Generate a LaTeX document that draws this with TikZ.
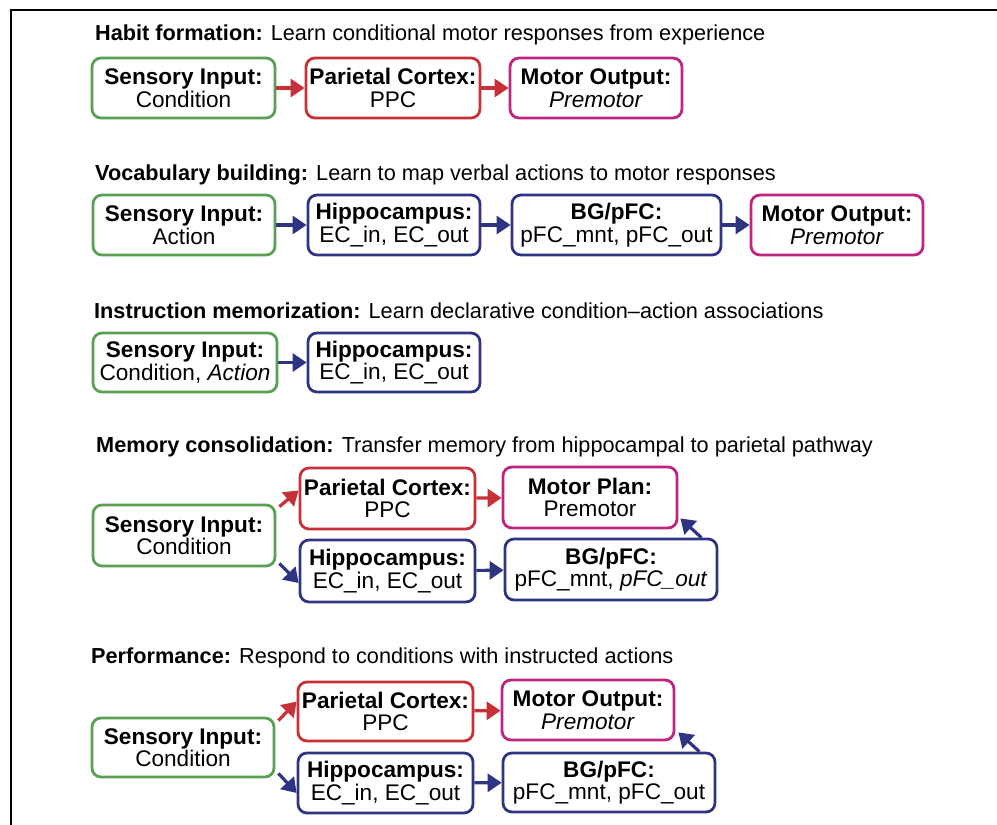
\documentclass[tikz,border=0pt]{standalone}
\usepackage{fontspec}
\setmainfont{Liberation Sans}
\usetikzlibrary{arrows.meta}

\definecolor{sensgreen}{RGB}{88,160,82}
\definecolor{parred}{RGB}{200,48,56}
\definecolor{motmag}{RGB}{190,36,128}
\definecolor{hipblue}{RGB}{46,52,130}

\tikzset{
	box/.style={draw, line width=2.8pt, rounded corners=9pt, align=center,
		inner sep=0pt, font=\fontsize{22.6}{22.5}\selectfont},
	sens/.style={box, draw=sensgreen},
	par/.style={box, draw=parred},
	mot/.style={box, draw=motmag},
	hip/.style={box, draw=hipblue},
	wh/.style 2 args={minimum width=#1pt, minimum height=#2pt},
	title/.style={anchor=base west, inner sep=0pt, font=\fontsize{21.7}{22}\selectfont},
	redarr/.style={draw=parred, line width=3.2pt, -{Triangle[length=14pt,width=18pt]}},
	bluearr/.style={draw=hipblue, line width=3.2pt, -{Triangle[length=14pt,width=18pt]}},
}

\begin{document}
\begin{tikzpicture}[x=1pt, y=-1pt]
		\useasboundingbox (0,0) rectangle (997,825);
		\draw[line width=2.6pt] (11,825) -- (11,10) -- (997,10);

		% habit formation
		\node[title] at (95,40) (t1) {\textbf{Habit formation:} Learn conditional motor responses from experience};
		\node[sens, wh={183}{60}] at (183.5,88) (s1) {\textbf{Sensory Input:}\\Condition};
		\node[par, wh={174}{60}] at (393,88) (p1) {\textbf{Parietal Cortex:}\\PPC};
		\node[mot, wh={172}{60}] at (596,88) (m1) {\textbf{Motor Output:}\\\textit{Premotor}};
		\draw[redarr] (s1) -- (p1);
		\draw[redarr] (p1) -- (m1);

		% vocabulary building
		\node[title] at (95,180) (t2) {\textbf{Vocabulary building:} Learn to map verbal actions to motor responses};
		\node[sens, wh={182}{60}] at (184,225) (s2) {\textbf{Sensory Input:}\\Action};
		\node[hip, wh={172}{60}] at (394,225) (h2) {\textbf{Hippocampus:}\\EC\_in, EC\_out};
		\node[hip, wh={209}{60}] at (616.5,225) (b2) {\textbf{BG/pFC:}\\pFC\_mnt, pFC\_out};
		\node[mot, wh={172}{60}] at (837,225) (m2) {\textbf{Motor Output:}\\\textit{Premotor}};
		\draw[bluearr] (s2) -- (h2);
		\draw[bluearr] (h2) -- (b2);
		\draw[bluearr] (b2) -- (m2);

		% instruction memorization
		\node[title] at (94,318) (t3) {\textbf{Instruction memorization:} Learn declarative condition--action associations};
		\node[sens, wh={184}{59}] at (185,362.5) (s3) {\textbf{Sensory Input:}\\Condition, \textit{Action}};
		\node[hip, wh={172}{59}] at (394,362.5) (h3) {\textbf{Hippocampus:}\\EC\_in, EC\_out};
		\draw[bluearr] (s3) -- (h3);

		% memory consolidation
		\node[title] at (96,452) (t4) {\textbf{Memory consolidation:} Transfer memory from hippocampal to parietal pathway};
		\node[sens, wh={182}{61}] at (184,535.5) (s4) {\textbf{Sensory Input:}\\Condition};
		\node[par, wh={175}{61}] at (387.5,498.5) (p4) {\textbf{Parietal Cortex:}\\PPC};
		\node[hip, wh={175}{62}] at (387.5,571) (h4) {\textbf{Hippocampus:}\\EC\_in, EC\_out};
		\node[mot, wh={174}{61}] at (590,497.5) (m4) {\textbf{Motor Plan:}\\Premotor};
		\node[hip, wh={212}{61}] at (611,569.5) (b4) {\textbf{BG/pFC:}\\pFC\_mnt, \textit{pFC\_out}};
		\draw[redarr] ([xshift=3pt,yshift=-3pt]s4.north east) -- ([yshift=8pt]p4.west);
		\draw[bluearr] ([xshift=3pt,yshift=4pt]s4.south east) -- ([yshift=-12pt]h4.west);
		\draw[redarr] (p4) -- (m4);
		\draw[bluearr] (h4) -- (b4);
		\draw[bluearr] ([xshift=-17pt]b4.north east) -- ([xshift=2pt,yshift=11pt]m4.south east);

		% performance
		\node[title] at (91,663) (t5) {\textbf{Performance:} Respond to conditions with instructed actions};
		\node[sens, wh={182}{59}] at (183,747.5) (s5) {\textbf{Sensory Input:}\\Condition};
		\node[par, wh={175}{59}] at (385.5,711.5) (p5) {\textbf{Parietal Cortex:}\\PPC};
		\node[hip, wh={175}{60}] at (385.5,783) (h5) {\textbf{Hippocampus:}\\EC\_in, EC\_out};
		\node[mot, wh={172}{60}] at (588,710) (m5) {\textbf{Motor Output:}\\\textit{Premotor}};
		\node[hip, wh={212}{59}] at (609,782.5) (b5) {\textbf{BG/pFC:}\\pFC\_mnt, pFC\_out};
		\draw[redarr] ([xshift=3pt,yshift=-4pt]s5.north east) -- ([yshift=10pt]p5.west);
		\draw[bluearr] ([xshift=3pt,yshift=5pt]s5.south east) -- ([yshift=-10pt]h5.west);
		\draw[redarr] (p5) -- (m5);
		\draw[bluearr] (h5) -- (b5);
		\draw[bluearr] ([xshift=-17pt]b5.north east) -- ([xshift=3pt,yshift=9pt]m5.south east);
\end{tikzpicture}
\end{document}
